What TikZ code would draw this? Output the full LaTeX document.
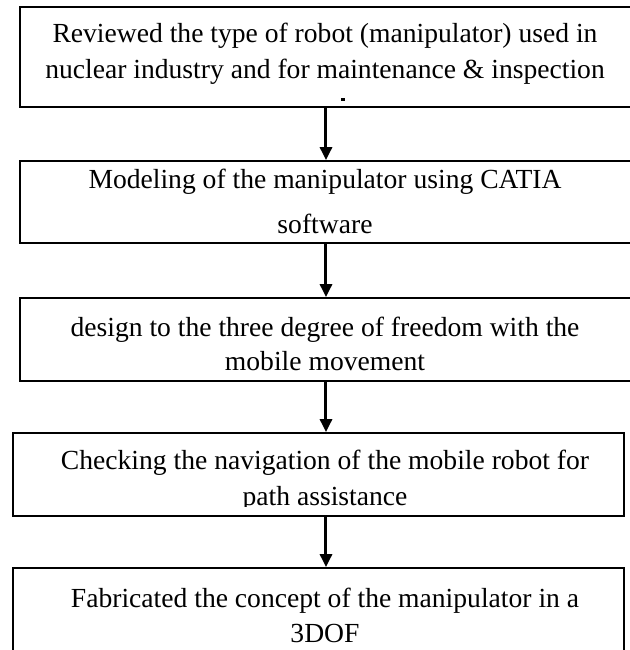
\documentclass[tikz,border=0pt]{standalone}
\usepackage{fontspec}
\setmainfont{Liberation Serif}
\usetikzlibrary{arrows.meta, positioning}

\begin{document}
\begin{tikzpicture}[x=0.5pt,y=-0.5pt,>={Triangle[width=6pt,length=6.5pt]},
  box/.style={draw, line width=0.9pt, inner sep=0pt},
  lbl/.style={anchor=base, inner sep=0pt, font=\fontsize{13.8}{16}\selectfont},
  flow/.style={->, line width=1.5pt}]
\useasboundingbox (0,0) rectangle (629,650);
% boxes
\node[box, minimum width=306pt, minimum height=50pt] (b1) at (326,57) {};
\node[box, minimum width=306pt, minimum height=41pt] (b2) at (326,202) {};
\node[box, minimum width=306pt, minimum height=41.5pt] (b3) at (326,339.5) {};
\node[box, minimum width=305.5pt, minimum height=41.5pt] (b4) at (318.5,474.5) {};
\node[box, minimum width=305.5pt, minimum height=61pt] (b5) at (318.5,629) {};
% texts
\node[lbl] (r1) at (325,42) {Reviewed the type of robot (manipulator) used in};
\node[lbl] (r2) at (325,78) {nuclear industry and for maintenance \& inspection};
\fill (341,98) rectangle (345,100.5); % clipped third line
\node[lbl] (m1) at (325,188) {Modeling of the manipulator using CATIA};
\node[lbl] (m2) at (325,233) {software};
\node[lbl] (d1) at (325,336) {design to the three degree of freedom with the};
\node[lbl] (d2) at (325,370) {mobile movement};
\node[lbl] (c1) at (325,469) {Checking the navigation of the mobile robot for};
\begin{scope}
\clip (13,433) rectangle (624,506);
\node[lbl] (c2) at (325,505) {path assistance};
\end{scope}
\node[lbl] (f1) at (325,607) {Fabricated the concept of the manipulator in a};
\node[lbl] (f2) at (325,642) {3DOF};
% arrows
\draw[flow] (b1.south) -- (b2.north);
\draw[flow] (b2.south) -- (b3.north);
\draw[flow] (b3.south) -- (b3.south |- b4.north);
\draw[flow] (b3.south |- b4.south) -- (b3.south |- b5.north);
\end{tikzpicture}
\end{document}
